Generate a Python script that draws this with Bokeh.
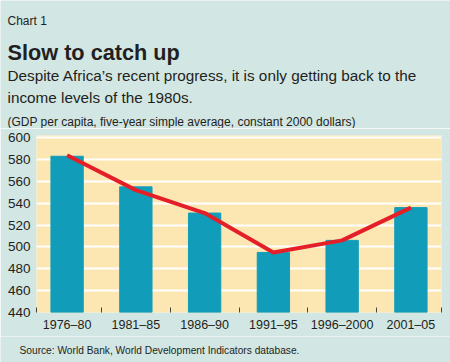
from bokeh.plotting import figure
from bokeh.models import Range1d, FixedTicker, ColumnDataSource
from bokeh.layouts import column
from bokeh.core.properties import value
from bokeh.embed import file_html
from bokeh.resources import INLINE

# ---- data ----
periods = ["1976–80", "1981–85", "1986–90", "1991–95", "1996–2000", "2001–05"]
gdp_bars = [583, 555, 531, 495, 506, 536]
gdp_line = [584, 552, 531, 495, 506, 536]
y_ticks = [440, 460, 480, 500, 520, 540, 560, 580, 600]

chart_no = "Chart 1"
title = "Slow to catch up"
subtitle = ["Despite Africa’s recent progress, it is only getting back to the",
            "income levels of the 1980s."]
units = "(GDP per capita, five-year simple average, constant 2000 dollars)"
source = "Source: World Bank, World Development Indicators database."

BG = "#d2e6e3"
PLOT_BG = "#fce6b2"
BAR = "#119dba"
RED = "#e51f28"
TXT = "#231f20"
FONT = "Liberation Sans"
W = 450


def text_panel(h):
    f = figure(width=W, height=h, output_backend="svg", toolbar_location=None,
               title_location=None, x_axis_location=None, y_axis_location=None,
               x_range=Range1d(0, W), y_range=Range1d(h, 0),
               min_border=0, min_border_left=0, min_border_right=0,
               min_border_top=0, min_border_bottom=0, frame_align=False)
    f.background_fill_color = BG
    f.border_fill_color = BG
    f.outline_line_color = None
    f.grid.visible = False
    return f


def put(f, txt, x, y, size, style="normal"):
    f.text(x=[x], y=[y], text=[txt], text_font=value(FONT), text_font_size=value(size),
           text_font_style=style, text_color=TXT, text_baseline="alphabetic",
           text_align="left")


# ---- header ----
head = text_panel(128)
put(head, chart_no, 7, 20, "12px")
put(head, title, 7, 51.7, "21.7px", style="bold")
put(head, subtitle[0], 7, 75, "15.3px")
put(head, subtitle[1], 7, 96.7, "15.3px")
put(head, units, 7, 121.7, "12px")

# ---- chart ----
xpos = [i + 0.5 for i in range(len(periods))]
src = ColumnDataSource(dict(x=xpos, bars=gdp_bars, line=gdp_line))

p = figure(width=W, height=208, output_backend="svg", toolbar_location=None,
           title_location=None, frame_align=False,
           x_range=Range1d(0.055, len(periods) - 0.055), y_range=Range1d(440, 602),
           min_border_left=36, min_border_right=9, min_border_top=7, min_border_bottom=24)
p.background_fill_color = PLOT_BG
p.border_fill_color = BG
p.outline_line_color = None

p.vbar(x="x", top="bars", bottom=440, width=0.47, color=BAR, source=src)
p.line(x="x", y="line", line_color=RED, line_width=4, source=src)

p.xgrid.grid_line_color = None
p.ygrid.grid_line_color = "white"
p.ygrid.grid_line_width = 2
p.yaxis.ticker = FixedTicker(ticks=y_ticks)
p.yaxis.axis_line_color = None
p.yaxis.major_tick_line_color = None
p.yaxis.minor_tick_line_color = None
p.yaxis.major_tick_out = 0
p.yaxis.major_label_standoff = 6
p.yaxis.major_label_text_font = FONT
p.yaxis.major_label_text_font_size = "13.5px"
p.yaxis.major_label_text_color = TXT

p.xaxis.ticker = FixedTicker(ticks=xpos,
                             minor_ticks=[0.055] + list(range(1, len(periods))) + [len(periods) - 0.055])
p.xaxis.major_label_overrides = {x: lab for x, lab in zip(xpos, periods)}
p.xaxis.axis_line_color = None
p.xaxis.major_tick_line_color = None
p.xaxis.major_tick_out = 0
p.xaxis.major_tick_in = 0
p.xaxis.minor_tick_line_color = "#444444"
p.xaxis.minor_tick_in = 5
p.xaxis.minor_tick_out = 0
p.xaxis.major_label_standoff = 5
p.xaxis.major_label_text_font = FONT
p.xaxis.major_label_text_font_size = "12.5px"
p.xaxis.major_label_text_color = TXT

# ---- footer ----
foot = text_panel(26)
put(foot, source, 19, 14, "10.2px")

layout = column(head, p, foot, spacing=0)
open("out.html", "w").write(file_html(layout, INLINE))
